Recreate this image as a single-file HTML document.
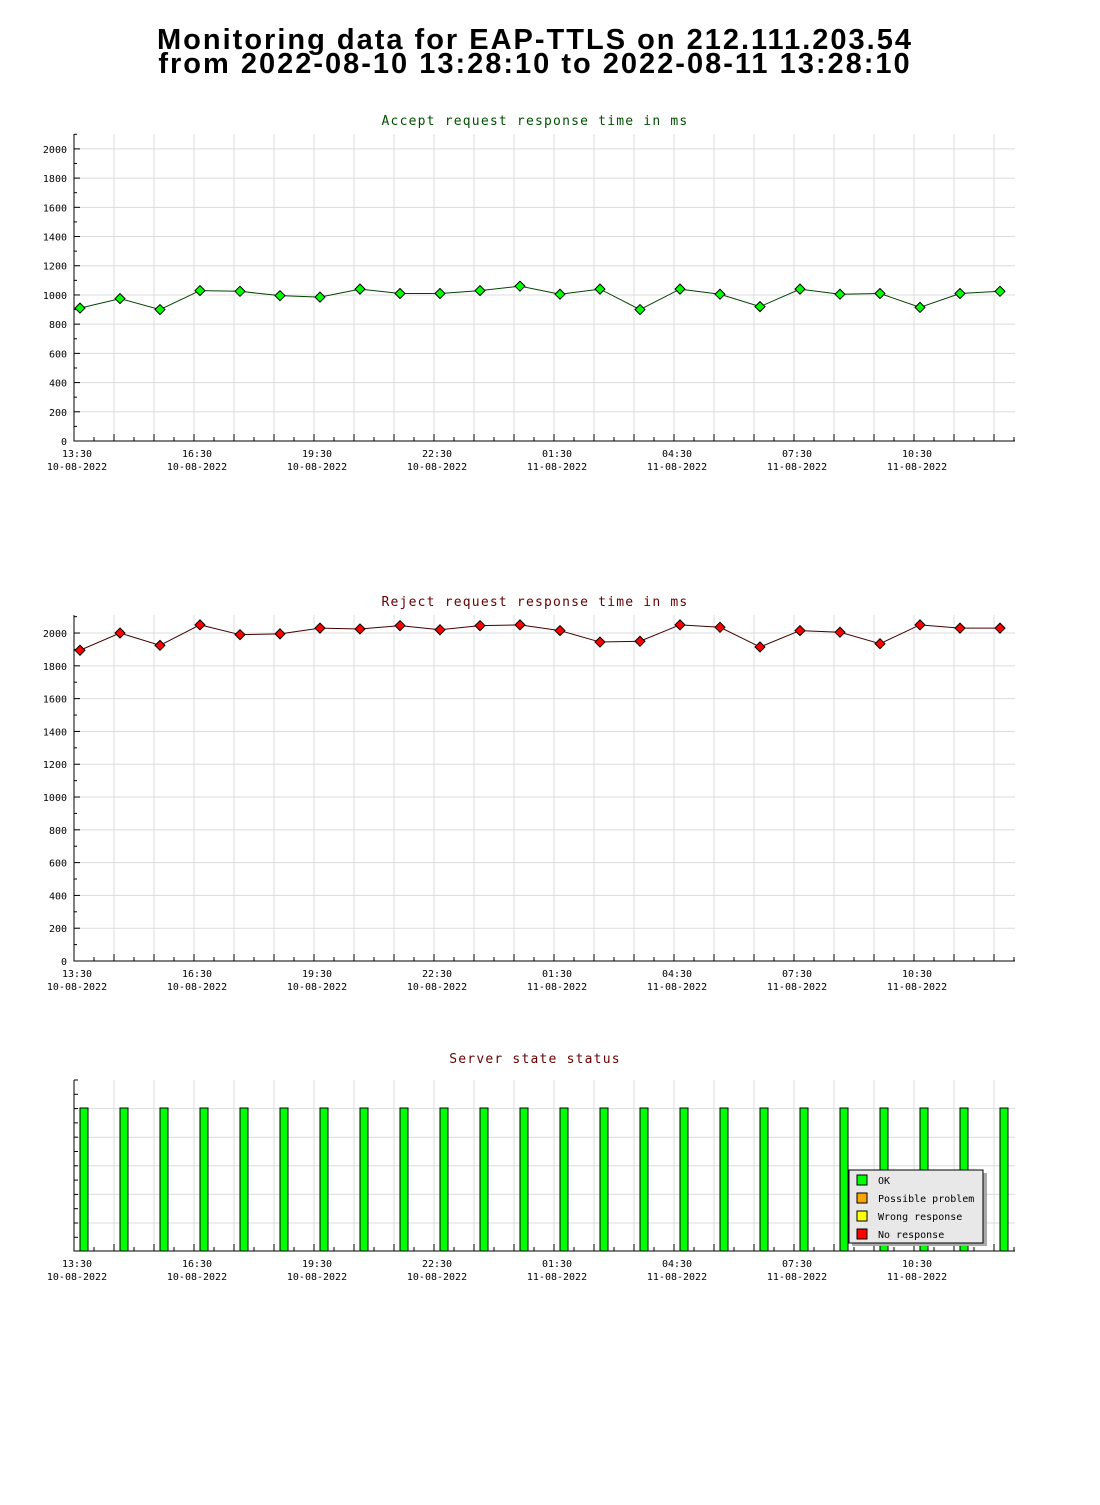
<!DOCTYPE html>
<html><head><meta charset="utf-8"><style>
body{margin:0;background:#fff;width:1100px;height:1500px;overflow:hidden}
svg text{font-family:"DejaVu Sans Mono","Liberation Mono",monospace}
</style></head><body>
<svg id="s" width="1100" height="1500" xmlns="http://www.w3.org/2000/svg">
<text x="535" y="49" text-anchor="middle" style="font-family:'Liberation Sans',sans-serif;font-weight:bold;font-size:29px;letter-spacing:2px" fill="#000">Monitoring data for EAP-TTLS on 212.111.203.54</text>
<text x="535" y="73" text-anchor="middle" style="font-family:'Liberation Sans',sans-serif;font-weight:bold;font-size:29px;letter-spacing:2px" fill="#000">from 2022-08-10 13:28:10 to 2022-08-11 13:28:10</text>
</svg>
<script>
const hours=[0.15,1.15,2.15,3.15,4.15,5.15,6.15,7.15,8.15,9.15,10.15,11.15,12.15,13.15,14.15,15.15,16.15,17.15,18.15,19.15,20.15,21.15,22.15,23.15];
const acceptValues=[910,975,900,1030,1025,995,985,1040,1010,1010,1030,1060,1005,1040,900,1040,1005,920,1040,1005,1010,915,1010,1025];
const rejectValues=[1895,2000,1925,2050,1990,1995,2030,2025,2045,2020,2045,2050,2015,1945,1950,2050,2035,1915,2015,2005,1935,2050,2030,2030];
const statusValues=[1,1,1,1,1,1,1,1,1,1,1,1,1,1,1,1,1,1,1,1,1,1,1,1];
const yTicks=[0,200,400,600,800,1000,1200,1400,1600,1800,2000];
const xTickLabels=[["13:30","10-08-2022"],["16:30","10-08-2022"],["19:30","10-08-2022"],["22:30","10-08-2022"],["01:30","11-08-2022"],["04:30","11-08-2022"],["07:30","11-08-2022"],["10:30","11-08-2022"]];
const legendLabels=["OK","Possible problem","Wrong response","No response"];
const legendColors=["#00ff00","#ffa500","#ffff00","#ff0000"];
const S=document.getElementById('s');const NS="http://www.w3.org/2000/svg";
function mk(t,a,txt){const e=document.createElementNS(NS,t);for(const k in a)e.setAttribute(k,a[k]);if(txt!==undefined)e.textContent=txt;S.appendChild(e);return e;}
const X0=74,X1=1015,HP=40;
const xs=h=>X0+h*HP;
function frame(top,bot,name){
  for(let x=X0+40;x<X1;x+=40){const g=mk('line',{x1:x,x2:x,y1:top,y2:bot,stroke:'#dcdcdc'});}
  for(let x=X0;x<=X1;x+=20){const t=mk('line',{x1:x,x2:x,y1:bot,y2:bot-(x%40==X0%40?7:4),stroke:'#000'});}
  xTickLabels.forEach((l,i)=>{const x=X0+3+i*120;
    const a=mk('text',{x:x,y:bot+16,'text-anchor':'middle','font-size':10},l[0]);
    const b=mk('text',{x:x,y:bot+29,'text-anchor':'middle','font-size':10},l[1]);});
}
function lineChart(top,bot,max,vals,col,lineCol,title,titleCol,name){
  const sc=v=>bot-(bot-top)*v/max;
  const t=mk('text',{x:535,y:top-9,'text-anchor':'middle','font-size':13,fill:titleCol,'letter-spacing':'1.2'},title);
  yTicks.forEach(v=>{if(v>0){const g=mk('line',{x1:X0,x2:X1,y1:sc(v),y2:sc(v),stroke:'#dcdcdc'});}
    const l=mk('text',{x:67,y:sc(v)+4,'text-anchor':'end','font-size':10},String(v));});
  for(let v=0;v<=max;v+=100){const m=mk('line',{x1:X0,x2:X0+(v%200==0?6:3),y1:sc(v),y2:sc(v),stroke:'#000'});}
  frame(top,bot,name);
  const ax=mk('path',{d:`M${X0} ${top}V${bot}H${X1}`,stroke:'#000',fill:'none'});
  const pl=mk('polyline',{points:vals.map((v,i)=>xs(hours[i])+','+sc(v)).join(' '),fill:'none',stroke:lineCol});
  vals.forEach((v,i)=>{const x=xs(hours[i]),y=sc(v);const p=mk('path',{d:`M${x} ${y-5}L${x+5} ${y}L${x} ${y+5}L${x-5} ${y}Z`,fill:col,stroke:'#000'});});
}
lineChart(134,441,2102,acceptValues,'#00ff00','#004400','Accept request response time in ms','#005000','accept-chart');
lineChart(615,961,2110,rejectValues,'#ff0000','#440000','Reject request response time in ms','#660000','reject-chart');
(function(){const top=1080,bot=1251,name='status-chart';
  const t=mk('text',{x:535,y:top-17,'text-anchor':'middle','font-size':13,fill:'#660000','letter-spacing':'1.2'},'Server state status');
  for(let i=1;i<6;i++){const y=top+i*28.6;const g=mk('line',{x1:X0,x2:X1,y1:y,y2:y,stroke:'#dcdcdc'});}
  for(let y=top;y<=bot;y+=14.3){const m=mk('line',{x1:X0,x2:X0+4,y1:y,y2:y,stroke:'#000'});}
  frame(top,bot,name);
  const bh=(bot-1108);
  statusValues.forEach((v,i)=>{const x=xs(hours[i])+4;const b=mk('rect',{x:x-4,y:bot-bh*v,width:8,height:bh*v,fill:'#00ff00',stroke:'#000'});});
  const ax=mk('path',{d:`M${X0} ${top}V${bot}H${X1}`,stroke:'#000',fill:'none'});
  const sh=mk('rect',{x:852,y:1173,width:135,height:73,fill:'#aaaaaa'});
  const lg=mk('rect',{x:849,y:1170,width:134,height:73,fill:'#e8e8e8',stroke:'#000'});
  legendLabels.forEach((l,i)=>{const y=1175+i*18;
    const r=mk('rect',{x:857,y:y,width:10,height:10,fill:legendColors[i],stroke:'#000'});
    const tx=mk('text',{x:878,y:y+9,'font-size':10},l);});
})();
</script>
</body></html>
